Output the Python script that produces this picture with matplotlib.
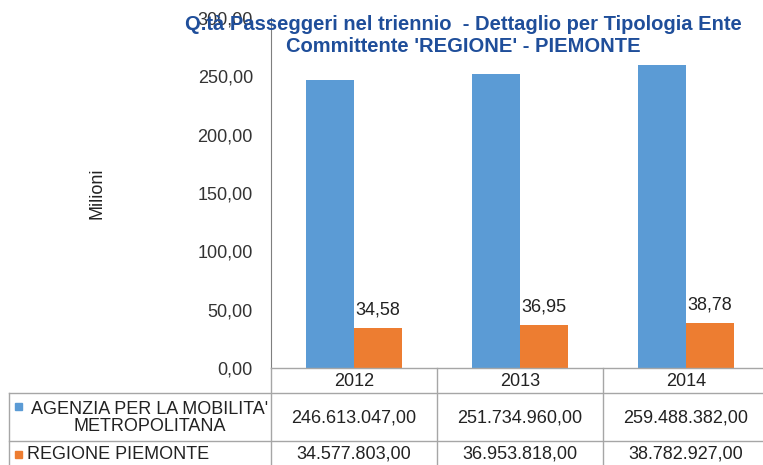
import numpy as np
import matplotlib
matplotlib.use('Agg')
import matplotlib.pyplot as plt
from matplotlib.lines import Line2D
from matplotlib.patches import Rectangle

plt.rcParams['font.family'] = ['Liberation Sans', 'DejaVu Sans']

# data
years = ['2012', '2013', '2014']
agenzia = [246613047.00, 251734960.00, 259488382.00]
regione = [34577803.00, 36953818.00, 38782927.00]
series_names = ["AGENZIA PER LA MOBILITA'\nMETROPOLITANA", "REGIONE PIEMONTE"]
y_ticks = [0, 50, 100, 150, 200, 250, 300]

blue = '#5B9BD5'
orange = '#ED7D31'
grid_c = '#A6A6A6'
title_c = '#1F4E9A'
txt_c = '#222222'

def fmt_it(v, dec=2):
    s = f"{v:,.{dec}f}"
    return s.replace(',', 'X').replace('.', ',').replace('X', '.')

W, H = 763, 465
fig = plt.figure(figsize=(W / 100, H / 100), dpi=100)

def fx(px):
    return px / W

def fy(py):
    return 1 - py / H

# plot area in pixels
x0, x1 = 271, 769
ytop, ybot = 18, 368
ax = fig.add_axes([fx(x0), fy(ybot), fx(x1 - x0), (ybot - ytop) / H])

a_m = np.array(agenzia) / 1e6
r_m = np.array(regione) / 1e6
x = np.arange(len(years))
bw = 0.29
ax.bar(x - bw / 2, a_m, bw, color=blue)
ax.bar(x + bw / 2, r_m, bw, color=orange)
for xi, v in zip(x, r_m):
    ax.text(xi + bw / 2, v + 8, fmt_it(v), ha='center', va='bottom',
            fontsize=13, color=txt_c)

ax.set_xlim(-0.5, 2.5)
ax.set_ylim(0, 300)
ax.set_yticks(y_ticks)
ax.set_yticklabels([fmt_it(t) for t in y_ticks], fontsize=13, color='#333333')
ax.tick_params(axis='y', length=0, pad=13)
ax.set_xticks([])
for s in ['top', 'right', 'bottom']:
    ax.spines[s].set_visible(False)
ax.spines['left'].set_color('#7F7F7F')
ax.set_ylabel('Milioni', fontsize=13, color=txt_c, labelpad=66)

# title
fig.text(fx(463), fy(35), "Q.tà Passeggeri nel triennio  - Dettaglio per Tipologia Ente\nCommittente 'REGIONE' - PIEMONTE",
         ha='center', va='center', fontsize=14.5, fontweight='bold', color=title_c,
         linespacing=1.2)

# data table
col_edges = [271, 437, 603, 769]
r_top, r_h1, r_h2, r_bot = 368, 393, 441, 470

def hline(y, xa, xb):
    fig.add_artist(Line2D([fx(xa), fx(xb)], [fy(y), fy(y)], color=grid_c, lw=1))

def vline(xp, ya, yb):
    fig.add_artist(Line2D([fx(xp), fx(xp)], [fy(ya), fy(yb)], color=grid_c, lw=1))

hline(r_top, 271, 763)
hline(r_h1, 9, 763)
hline(r_h2, 9, 763)
for xe in col_edges[:-1]:
    vline(xe, r_top, r_bot)
vline(9, r_h1, r_bot)

for i, yr in enumerate(years):
    cx = (col_edges[i] + col_edges[i + 1]) / 2
    fig.text(fx(cx), fy((r_top + r_h1) / 2 + 1), yr, ha='center', va='center',
             fontsize=13, color=txt_c)
    fig.text(fx(cx), fy((r_h1 + r_h2) / 2 + 1), fmt_it(agenzia[i]), ha='center',
             va='center', fontsize=13, color=txt_c)
    fig.text(fx(cx), fy((r_h2 + 465) / 2 + 1), fmt_it(regione[i]), ha='center',
             va='center', fontsize=13, color=txt_c)

row_y = [(r_h1 + r_h2) / 2 + 1, (r_h2 + 465) / 2 + 1]
fig.text(fx(150), fy(row_y[0]), series_names[0], ha='center', va='center',
         fontsize=13, color=txt_c, multialignment='center', linespacing=1.0)
fig.text(fx(27), fy(row_y[1]), series_names[1], ha='left', va='center',
         fontsize=13, color=txt_c)
for yc, c in zip([406, row_y[1]], [blue, orange]):
    fig.add_artist(Rectangle((fx(15), fy(yc + 3.5)), fx(7), 7 / H, color=c,
                             transform=fig.transFigure))

fig.savefig('out.png', dpi=100)
